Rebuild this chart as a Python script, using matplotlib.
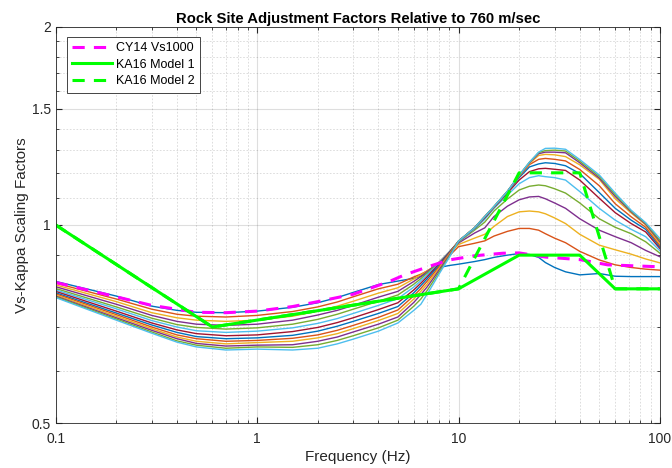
import numpy as np
import matplotlib
matplotlib.use("Agg")
import matplotlib.pyplot as plt
from matplotlib.ticker import FixedLocator, FixedFormatter, NullFormatter

plt.rcParams['font.family'] = ['Liberation Sans', 'DejaVu Sans']

freq = [0.1, 0.2, 0.3, 0.4, 0.5, 0.7, 1, 1.5, 2, 2.5, 3, 4, 5, 6, 6.5, 7, 7.5, 8, 9, 10,
        12, 13.5, 15, 17.5, 20, 22.5, 25, 27, 30, 34, 40, 50, 60, 72, 85, 100]

# one column per frequency, one entry per curve (13 curves)
cols = [
    [0.821, 0.816, 0.811, 0.806, 0.801, 0.797, 0.793, 0.789, 0.786, 0.783, 0.780, 0.778, 0.776],
    [0.780, 0.772, 0.765, 0.758, 0.751, 0.746, 0.740, 0.735, 0.731, 0.727, 0.723, 0.720, 0.717],
    [0.753, 0.745, 0.736, 0.729, 0.722, 0.716, 0.710, 0.705, 0.700, 0.696, 0.692, 0.688, 0.685],
    [0.742, 0.732, 0.723, 0.714, 0.706, 0.700, 0.693, 0.687, 0.681, 0.676, 0.672, 0.667, 0.664],
    [0.737, 0.727, 0.717, 0.707, 0.699, 0.691, 0.684, 0.677, 0.672, 0.666, 0.661, 0.657, 0.653],
    [0.736, 0.725, 0.714, 0.704, 0.695, 0.687, 0.679, 0.672, 0.666, 0.660, 0.655, 0.650, 0.646],
    [0.740, 0.729, 0.717, 0.707, 0.698, 0.690, 0.681, 0.674, 0.668, 0.663, 0.657, 0.653, 0.648],
    [0.750, 0.739, 0.727, 0.717, 0.707, 0.698, 0.689, 0.680, 0.673, 0.666, 0.658, 0.652, 0.646],
    [0.762, 0.751, 0.740, 0.730, 0.719, 0.709, 0.699, 0.690, 0.681, 0.674, 0.666, 0.658, 0.650],
    [0.776, 0.764, 0.753, 0.742, 0.732, 0.721, 0.711, 0.702, 0.692, 0.684, 0.676, 0.668, 0.660],
    [0.790, 0.778, 0.766, 0.755, 0.745, 0.734, 0.723, 0.714, 0.704, 0.696, 0.688, 0.679, 0.671],
    [0.812, 0.800, 0.788, 0.777, 0.766, 0.755, 0.744, 0.734, 0.724, 0.716, 0.707, 0.698, 0.690],
    [0.822, 0.813, 0.803, 0.793, 0.783, 0.773, 0.762, 0.752, 0.743, 0.734, 0.725, 0.717, 0.710],
    [0.830, 0.834, 0.828, 0.821, 0.813, 0.805, 0.797, 0.789, 0.781, 0.772, 0.763, 0.753, 0.742],
    [0.836, 0.842, 0.840, 0.835, 0.829, 0.823, 0.816, 0.809, 0.801, 0.793, 0.784, 0.772, 0.758],
    [0.845, 0.852, 0.852, 0.850, 0.846, 0.841, 0.835, 0.829, 0.822, 0.814, 0.806, 0.796, 0.786],
    [0.853, 0.862, 0.864, 0.864, 0.862, 0.858, 0.854, 0.849, 0.843, 0.837, 0.830, 0.822, 0.814],
    [0.862, 0.872, 0.876, 0.878, 0.877, 0.875, 0.872, 0.868, 0.864, 0.859, 0.854, 0.848, 0.842],
    [0.868, 0.898, 0.905, 0.909, 0.910, 0.910, 0.909, 0.907, 0.905, 0.902, 0.899, 0.896, 0.893],
    [0.872, 0.927, 0.934, 0.939, 0.942, 0.943, 0.944, 0.945, 0.945, 0.945, 0.945, 0.945, 0.945],
    [0.880, 0.938, 0.955, 0.972, 0.982, 0.986, 0.988, 0.989, 0.990, 0.990, 0.990, 0.990, 0.990],
    [0.886, 0.946, 0.968, 0.990, 1.010, 1.020, 1.025, 1.028, 1.029, 1.030, 1.030, 1.030, 1.030],
    [0.893, 0.962, 0.995, 1.030, 1.050, 1.060, 1.063, 1.065, 1.065, 1.066, 1.066, 1.067, 1.067],
    [0.900, 0.978, 1.030, 1.068, 1.095, 1.110, 1.118, 1.122, 1.124, 1.125, 1.125, 1.125, 1.125],
    [0.905, 0.988, 1.047, 1.092, 1.130, 1.155, 1.170, 1.180, 1.185, 1.188, 1.189, 1.190, 1.190],
    [0.902, 0.988, 1.050, 1.103, 1.145, 1.180, 1.205, 1.225, 1.235, 1.240, 1.243, 1.245, 1.245],
    [0.893, 0.982, 1.047, 1.105, 1.150, 1.188, 1.217, 1.238, 1.258, 1.275, 1.283, 1.288, 1.290],
    [0.877, 0.970, 1.040, 1.096, 1.147, 1.184, 1.219, 1.243, 1.262, 1.280, 1.290, 1.297, 1.307],
    [0.862, 0.955, 1.025, 1.080, 1.135, 1.180, 1.215, 1.240, 1.258, 1.278, 1.290, 1.299, 1.308],
    [0.849, 0.940, 1.005, 1.060, 1.118, 1.170, 1.210, 1.230, 1.251, 1.270, 1.287, 1.295, 1.303],
    [0.840, 0.912, 0.968, 1.022, 1.080, 1.124, 1.170, 1.197, 1.214, 1.234, 1.243, 1.250, 1.257],
    [0.844, 0.885, 0.932, 0.982, 1.022, 1.060, 1.098, 1.120, 1.147, 1.173, 1.178, 1.185, 1.191],
    [0.836, 0.870, 0.917, 0.960, 0.992, 1.017, 1.044, 1.060, 1.077, 1.096, 1.105, 1.112, 1.118],
    [0.835, 0.862, 0.903, 0.940, 0.970, 0.985, 1.005, 1.017, 1.029, 1.043, 1.047, 1.050, 1.053],
    [0.835, 0.857, 0.888, 0.915, 0.943, 0.960, 0.976, 0.985, 0.992, 1.000, 1.003, 1.006, 1.008],
    [0.835, 0.854, 0.876, 0.895, 0.906, 0.914, 0.921, 0.926, 0.931, 0.937, 0.943, 0.948, 0.954],
]
curves = np.array(cols).T

# CY14 Vs1000
cy_f = [0.1, 0.2, 0.3, 0.5, 0.7, 1, 1.5, 2, 3, 4.5, 5.4, 7.2, 9, 12, 16.6, 20, 27, 40, 55, 100]
cy_v = [0.818, 0.778, 0.755, 0.737, 0.736, 0.740, 0.752, 0.765, 0.785, 0.820, 0.840, 0.866, 0.885, 0.898, 0.906, 0.907, 0.894, 0.886, 0.870, 0.864]

# KA16 models
m1_f = [0.1, 0.6, 10, 20, 40, 60, 100]
m1_v = [1.0, 0.7, 0.8, 0.9, 0.9, 0.8, 0.8]
m2_f = [0.1, 0.6, 10, 20, 40, 60, 100]
m2_v = [1.0, 0.7, 0.8, 1.2, 1.2, 0.8, 0.8]

clr = [(0, 0.447, 0.741), (0.85, 0.325, 0.098), (0.929, 0.694, 0.125),
       (0.494, 0.184, 0.556), (0.466, 0.674, 0.188), (0.301, 0.745, 0.933),
       (0.635, 0.078, 0.184)]

fig = plt.figure(figsize=(6.72, 4.68), dpi=100)
ax = fig.add_axes([0.0829, 0.0955, 0.8991, 0.8475])

for i in range(curves.shape[0]):
    ax.plot(freq, curves[i], color=clr[i % 7], lw=1.0)

ax.plot(cy_f, cy_v, color=(1, 0, 1), lw=2.2, ls=(0, (4, 3)), label='CY14 Vs1000')
ax.plot(m1_f, m1_v, color=(0, 1, 0), lw=2.2, label='KA16 Model 1')
ax.plot(m2_f, m2_v, color=(0, 1, 0), lw=2.2, ls=(0, (4, 3)), label='KA16 Model 2')

ax.set_xscale('log')
ax.set_yscale('log')
ax.set_xlim(0.1, 100)
ax.set_ylim(0.5, 2)

ax.xaxis.set_major_locator(FixedLocator([0.1, 1, 10, 100]))
ax.xaxis.set_major_formatter(FixedFormatter(['0.1', '1', '10', '100']))
ax.yaxis.set_major_locator(FixedLocator([0.5, 1, 1.5, 2]))
ax.yaxis.set_major_formatter(FixedFormatter(['0.5', '1', '1.5', '2']))
ax.yaxis.set_minor_locator(FixedLocator([0.6, 0.7, 0.8, 0.9, 1.1, 1.2, 1.3, 1.4, 1.6, 1.7, 1.8, 1.9]))
ax.yaxis.set_minor_formatter(NullFormatter())
ax.xaxis.set_minor_formatter(NullFormatter())

ax.grid(True, which='major', color=(0.15, 0.15, 0.15), alpha=0.15, lw=0.8)
ax.grid(True, which='minor', color=(0.15, 0.15, 0.15), alpha=0.18, lw=0.6, ls=(0, (2, 2)))
ax.tick_params(which='both', direction='in', top=True, right=True, colors=(0.15, 0.15, 0.15), labelsize=10)
ax.tick_params(which='major', length=4)
ax.tick_params(which='minor', length=2.5)
ax.tick_params(axis='x', pad=6)
for s in ax.spines.values():
    s.set_color((0.15, 0.15, 0.15))
    s.set_linewidth(0.6)

ax.set_title('Rock Site Adjustment Factors Relative to 760 m/sec', fontsize=10.7, fontweight='bold', pad=2.5)
ax.set_xlabel('Frequency (Hz)', fontsize=11, color=(0.15, 0.15, 0.15), labelpad=3)
ax.set_ylabel('Vs-Kappa Scaling Factors', fontsize=11, color=(0.15, 0.15, 0.15), labelpad=2)

leg = ax.legend(loc='upper left', fontsize=9, fancybox=False, framealpha=1, edgecolor=(0.15, 0.15, 0.15),
                handlelength=3.2, handletextpad=0.3, borderpad=0.45, labelspacing=0.35,
                borderaxespad=0, bbox_to_anchor=(0.018, 0.975))
leg.get_frame().set_linewidth(0.6)

fig.savefig('out.png', dpi=100)
